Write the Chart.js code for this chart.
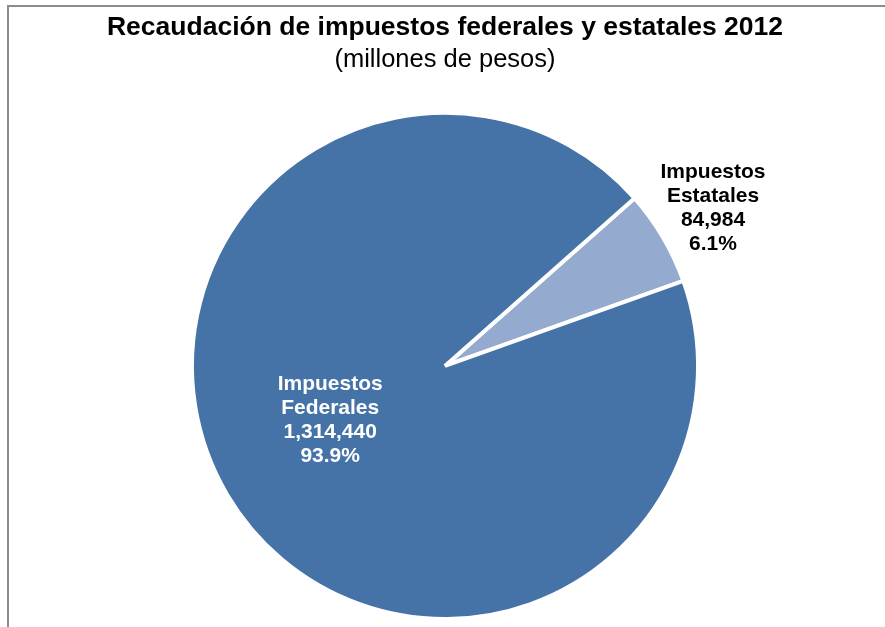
<!DOCTYPE html>
<html>
<head>
<meta charset="utf-8">
<script src="https://cdn.jsdelivr.net/npm/chart.js@4.4.0/dist/chart.umd.min.js"></script>
<style>
  html, body { margin: 0; padding: 0; background: #fff; overflow: hidden; }
  #frame { position: absolute; left: 7px; top: 5px; width: 900px; height: 700px;
           border-left: 2px solid #8c8c8c; border-top: 2px solid #8c8c8c; }
  #wrap { position: absolute; left: 0; top: 0; width: 885px; height: 627px; }
</style>
</head>
<body>
<div id="frame"></div>
<div id="wrap"><canvas id="pie"></canvas></div>
<script>
var labels = ['Impuestos Estatales', 'Impuestos Federales'];
var values = [84984, 1314440];
var colors = ['#94aacf', '#4573a7'];

var total = values.reduce(function (a, b) { return a + b; }, 0);

// etiquetas tipo Excel: nombre en dos lineas, valor y porcentaje
var pieLabels = {
    id: 'pieLabels',
    afterDatasetsDraw: function (chart) {
        var ctx = chart.ctx;
        var meta = chart.getDatasetMeta(0);
        ctx.save();
        ctx.font = 'bold 21px "Liberation Sans", Arial, sans-serif';
        ctx.textAlign = 'center';
        ctx.textBaseline = 'middle';
        meta.data.forEach(function (arc, i) {
            var p = arc.getProps(['x', 'y', 'startAngle', 'endAngle', 'outerRadius'], true);
            var mid = (p.startAngle + p.endAngle) / 2;
            var inside = values[i] / total > 0.5;
            var r = inside ? p.outerRadius * 0.5 : p.outerRadius * 1.23;
            if (inside) mid += 0.1;
            var cx = p.x + Math.cos(mid) * r;
            var cy = p.y + Math.sin(mid) * r;
            var lines = labels[i].split(' ');
            lines.push(values[i].toLocaleString('en-US'));
            lines.push((values[i] / total * 100).toFixed(1) + '%');
            ctx.fillStyle = inside ? '#ffffff' : '#000000';
            var lh = 24;
            var y0 = cy - (lines.length - 1) * lh / 2 + 1;
            lines.forEach(function (t, k) {
                ctx.fillText(t, cx, y0 + k * lh);
            });
        });
        ctx.restore();
    }
};

var ctx = document.getElementById('pie').getContext('2d');
var myChart = new Chart(ctx, {
    type: 'pie',
    data: {
        labels: labels,
        datasets: [{
            data: values,
            backgroundColor: colors,
            borderColor: '#ffffff',
            borderWidth: 4
        }]
    },
    options: {
        responsive: true,
        maintainAspectRatio: false,
        animation: false,
        rotation: 48.5,
        layout: { padding: { left: 5, right: 0, top: 0, bottom: 6 } },
        plugins: {
            legend: { display: false },
            tooltip: { enabled: false },
            title: {
                display: true,
                text: 'Recaudación de impuestos federales y estatales 2012',
                color: '#000',
                font: { family: '"Liberation Sans", Arial, sans-serif', size: 26.5, weight: 'bold' },
                padding: { top: 12, bottom: 0 }
            },
            subtitle: {
                display: true,
                text: '(millones de pesos)',
                color: '#000',
                font: { family: '"Liberation Sans", Arial, sans-serif', size: 25.5 },
                padding: { top: 1, bottom: 35.5 }
            }
        }
    },
    plugins: [pieLabels]
});
</script>
</body>
</html>
